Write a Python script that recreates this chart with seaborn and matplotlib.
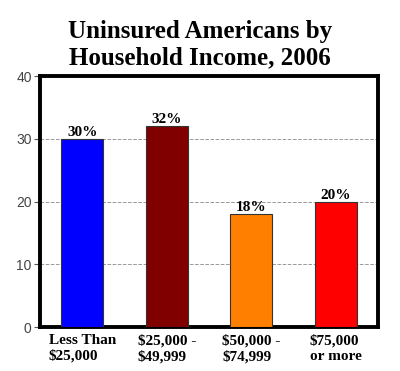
import matplotlib
matplotlib.use("Agg")
import matplotlib.pyplot as plt
import seaborn as sns
import pandas as pd

categories = ["Less Than\n$25,000", "$25,000 -\n$49,999", "$50,000 -\n$74,999", "$75,000\nor more"]
values = [30, 32, 18, 20]
bar_colors = ["#0000FF", "#800000", "#FF8000", "#FF0000"]
yticks = [0, 10, 20, 30, 40]

df = pd.DataFrame({"income": categories, "pct": values})

sns.set_style("white")
plt.rcParams["text.color"] = "black"
serif = ["Liberation Serif", "DejaVu Serif"]

fig = plt.figure(figsize=(4.0, 3.71), dpi=100)
ax = fig.add_axes([0.10, 0.118, 0.845, 0.677])

sns.barplot(data=df, x="income", y="pct", hue="income", palette=bar_colors, saturation=1,
            width=0.5, edgecolor="#333333", linewidth=0.8, legend=False, ax=ax, zorder=3)

ax.set_ylim(0, 40)
ax.set_xlim(-0.5, 3.5)
ax.set_yticks(yticks)
ax.yaxis.grid(True, linestyle="--", color="#999999", linewidth=0.7, zorder=0)
ax.set_axisbelow(True)
for s in ax.spines.values():
    s.set_visible(True)
    s.set_color("black")
    s.set_linewidth(2.8)

ax.tick_params(axis="y", which="both", left=True, length=4, width=0.8, color="#555555",
               labelsize=10, labelcolor="#444444", pad=2)
ax.tick_params(axis="x", length=0, pad=5)
for lbl in ax.get_yticklabels():
    lbl.set_family("Liberation Sans")
ax.set_xticks(range(len(categories)))
ax.set_xticklabels(categories, family=serif, fontweight="bold", fontsize=11,
                   multialignment="left", linespacing=1.2, color="black")
ax.set_xlabel("")
ax.set_ylabel("")

for i, v in enumerate(values):
    ax.text(i, v, f"{v}%", ha="center", va="bottom", family=serif,
            fontweight="bold", fontsize=11, color="black", zorder=4)

fig.text(0.5, 0.945, "Uninsured Americans by\nHousehold Income, 2006", ha="center", va="top",
         family=serif, fontweight="bold", fontsize=18, linespacing=1.15, color="black")

fig.savefig("out.png", dpi=100, facecolor="white")
